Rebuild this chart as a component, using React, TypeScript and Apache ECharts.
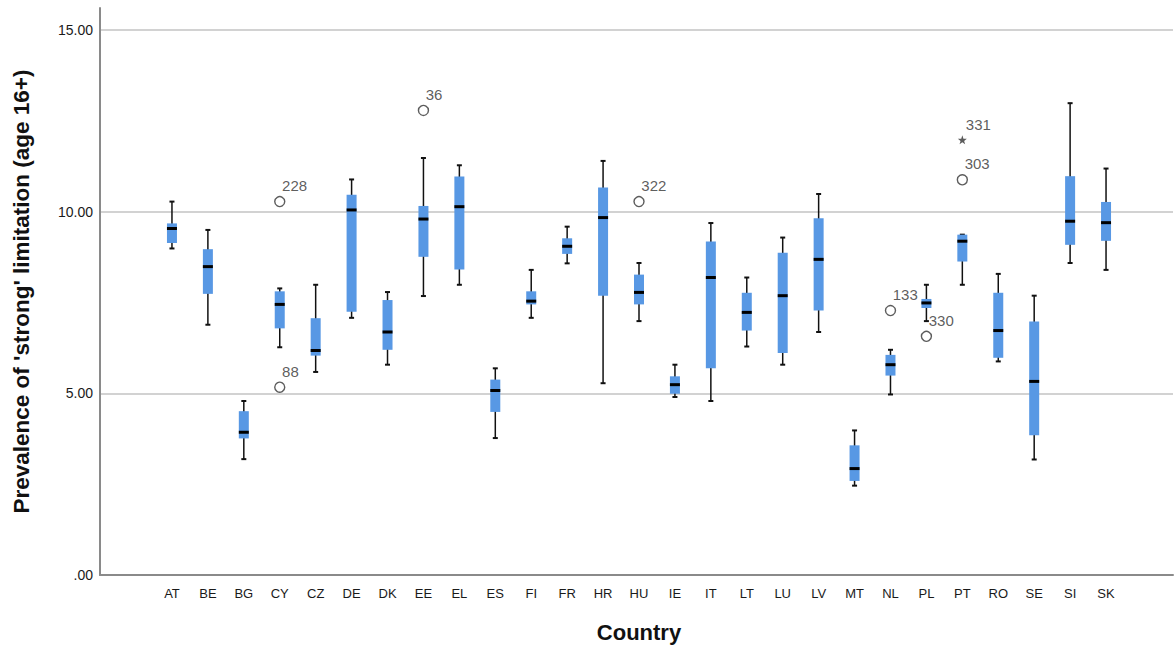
import { useEffect, useRef } from 'react';
import * as echarts from 'echarts';

// Country codes on the category axis
const countries = [
  'AT', 'BE', 'BG', 'CY', 'CZ', 'DE', 'DK', 'EE', 'EL', 'ES', 'FI', 'FR', 'HR', 'HU',
  'IE', 'IT', 'LT', 'LU', 'LV', 'MT', 'NL', 'PL', 'PT', 'RO', 'SE', 'SI', 'SK',
];

// Five-number summaries per country (whisker ends, quartiles, median)
const whiskerLow = [
  8.99, 6.89, 3.19, 6.27, 5.59, 7.08, 5.79, 7.68, 7.99, 3.77, 7.08, 8.58, 5.28, 6.99,
  4.9, 4.79, 6.29, 5.79, 6.69, 2.46, 4.97, 6.99, 7.99, 5.88, 3.18, 8.59, 8.4,
];
const quartile1 = [
  9.14, 7.74, 3.76, 6.79, 6.04, 7.25, 6.2, 8.76, 8.41, 4.49, 7.45, 8.84, 7.69, 7.45,
  4.99, 5.69, 6.73, 6.11, 7.28, 2.59, 5.49, 7.35, 8.63, 5.98, 3.85, 9.09, 9.2,
];
const medians = [
  9.54, 8.49, 3.93, 7.45, 6.18, 10.05, 6.69, 9.8, 10.14, 5.08, 7.54, 9.05, 9.84, 7.78,
  5.24, 8.19, 7.23, 7.69, 8.69, 2.93, 5.79, 7.49, 9.19, 6.73, 5.33, 9.74, 9.7,
];
const quartile3 = [
  9.68, 8.97, 4.51, 7.81, 7.07, 10.47, 7.57, 10.16, 10.97, 5.38, 7.81, 9.27, 10.67, 8.27,
  5.47, 9.18, 7.77, 8.87, 9.82, 3.57, 6.06, 7.6, 9.37, 7.77, 6.98, 10.98, 10.27,
];
const whiskerHigh = [
  10.28, 9.5, 4.79, 7.89, 7.99, 10.89, 7.79, 11.48, 11.28, 5.69, 8.4, 9.59, 11.4, 8.59,
  5.79, 9.69, 8.19, 9.29, 10.49, 3.98, 6.2, 7.99, 9.37, 8.29, 7.69, 12.99, 11.19,
];

// Outlying cases: country, value, case number, extreme (star) or not (circle)
const outlierCountry = ['CY', 'CY', 'EE', 'HU', 'NL', 'PL', 'PT', 'PT'];
const outlierValue = [10.28, 5.17, 12.79, 10.28, 7.28, 6.57, 10.88, 11.98];
const outlierCase = ['228', '88', '36', '322', '133', '330', '303', '331'];
const outlierExtreme = [false, false, false, false, false, false, false, true];

// Y-axis tick values
const yTicks = [0, 5, 10, 15];

const BOX_FILL = '#5898e4';
const FONT = "'Liberation Sans', Arial, sans-serif";
const STAR =
  'path://M0,-10 L2.35,-3.24 L9.51,-3.09 L3.8,1.24 L5.88,8.09 L0,4 L-5.88,8.09 L-3.8,1.24 L-9.51,-3.09 L-2.35,-3.24 Z';

export default function App() {
  const ref = useRef<HTMLDivElement>(null);

  useEffect(() => {
    document.body.style.margin = '0';
    const chart = echarts.init(ref.current!, null, { renderer: 'svg' });

    const yMax = 15.61; // axis line runs a little above the top tick
    const gridTop = 8;
    const gridBottom = 72;

    const boxData = countries.map((_, i) => [
      i, whiskerLow[i], quartile1[i], medians[i], quartile3[i], whiskerHigh[i],
    ]);

    const outlierData = outlierCountry.map((c, k) => ({
      value: [countries.indexOf(c), outlierValue[k]],
      name: outlierCase[k],
      symbol: outlierExtreme[k] ? STAR : 'circle',
      symbolSize: outlierExtreme[k] ? 9 : 10,
      itemStyle: outlierExtreme[k]
        ? { color: '#333', borderWidth: 0 }
        : { color: '#fff', borderColor: '#333', borderWidth: 1.4 },
    }));

    const tickLabel = (v: number) => {
      if (!yTicks.includes(Math.round(v * 100) / 100)) return '';
      return v === 0 ? '.00' : v.toFixed(2);
    };

    chart.setOption({
      animation: false,
      backgroundColor: '#fff',
      textStyle: { fontFamily: FONT },
      grid: [
        { left: 100, right: 2, top: gridTop, bottom: gridBottom, containLabel: false, outerBoundsMode: 'none' },
        { left: 154, right: 51, top: gridTop, bottom: gridBottom, containLabel: false, outerBoundsMode: 'none' },
      ],
      xAxis: [
        {
          gridIndex: 0,
          type: 'category',
          data: [''],
          axisLine: { show: true, lineStyle: { color: '#8a8a8a', width: 2 } },
          axisTick: { show: false },
          axisLabel: { show: false },
          splitLine: { show: false },
        },
        {
          gridIndex: 1,
          type: 'category',
          data: countries,
          boundaryGap: true,
          axisLine: { show: false },
          axisTick: { show: false },
          axisLabel: { margin: 12, fontSize: 13, color: '#1a1a1a', fontFamily: FONT },
          name: 'Country',
          nameLocation: 'middle',
          nameGap: 46,
          nameTextStyle: { fontSize: 22, fontWeight: 'bold', color: '#111', fontFamily: FONT },
        },
      ],
      yAxis: [
        {
          gridIndex: 0,
          type: 'value',
          min: 0,
          max: yMax,
          interval: 5,
          axisLine: { show: true, lineStyle: { color: '#8a8a8a', width: 2 } },
          axisTick: { show: false },
          axisLabel: { formatter: tickLabel, margin: 7, fontSize: 14, color: '#1a1a1a', fontFamily: FONT },
          splitLine: { show: true, showMinLine: false, showMaxLine: false, lineStyle: { color: '#d2d2d2', width: 2 } },
          name: "Prevalence of 'strong' limitation (age 16+)",
          nameLocation: 'middle',
          nameGap: 67,
          nameTextStyle: { fontSize: 22.5, fontWeight: 'bold', color: '#111', fontFamily: FONT },
        },
        {
          gridIndex: 1,
          type: 'value',
          min: 0,
          max: yMax,
          show: false,
          splitLine: { show: false },
        },
      ],
      series: [
        {
          type: 'custom',
          xAxisIndex: 1,
          yAxisIndex: 1,
          encode: { x: 0, y: [1, 2, 3, 4, 5] },
          data: boxData,
          renderItem: (_params: any, api: any) => {
            const i = api.value(0);
            const pLow = api.coord([i, api.value(1)]);
            const pQ1 = api.coord([i, api.value(2)]);
            const pMed = api.coord([i, api.value(3)]);
            const pQ3 = api.coord([i, api.value(4)]);
            const pHigh = api.coord([i, api.value(5)]);
            const x = pLow[0];
            const hw = 5;
            const cap = 2.5;
            const ink = '#111';
            return {
              type: 'group',
              children: [
                { type: 'line', shape: { x1: x, y1: pHigh[1], x2: x, y2: pLow[1] }, style: { stroke: ink, lineWidth: 1.5 } },
                { type: 'line', shape: { x1: x - cap, y1: pHigh[1], x2: x + cap, y2: pHigh[1] }, style: { stroke: ink, lineWidth: 2 } },
                { type: 'line', shape: { x1: x - cap, y1: pLow[1], x2: x + cap, y2: pLow[1] }, style: { stroke: ink, lineWidth: 2 } },
                {
                  type: 'rect',
                  shape: { x: x - hw, y: pQ3[1], width: hw * 2, height: pQ1[1] - pQ3[1] },
                  style: { fill: BOX_FILL },
                },
                {
                  type: 'rect',
                  shape: { x: x - hw, y: pMed[1] - 1.5, width: hw * 2, height: 3 },
                  style: { fill: '#000' },
                },
              ],
            };
          },
          z: 3,
        },
        {
          type: 'scatter',
          xAxisIndex: 1,
          yAxisIndex: 1,
          data: outlierData,
          z: 4,
          label: {
            show: true,
            formatter: '{b}',
            position: [8, -18],
            fontSize: 15,
            color: '#333',
            fontFamily: FONT,
          },
        },
      ],
    });

    return () => chart.dispose();
  }, []);

  return <div ref={ref} style={{ width: 1175, height: 647 }} />;
}
